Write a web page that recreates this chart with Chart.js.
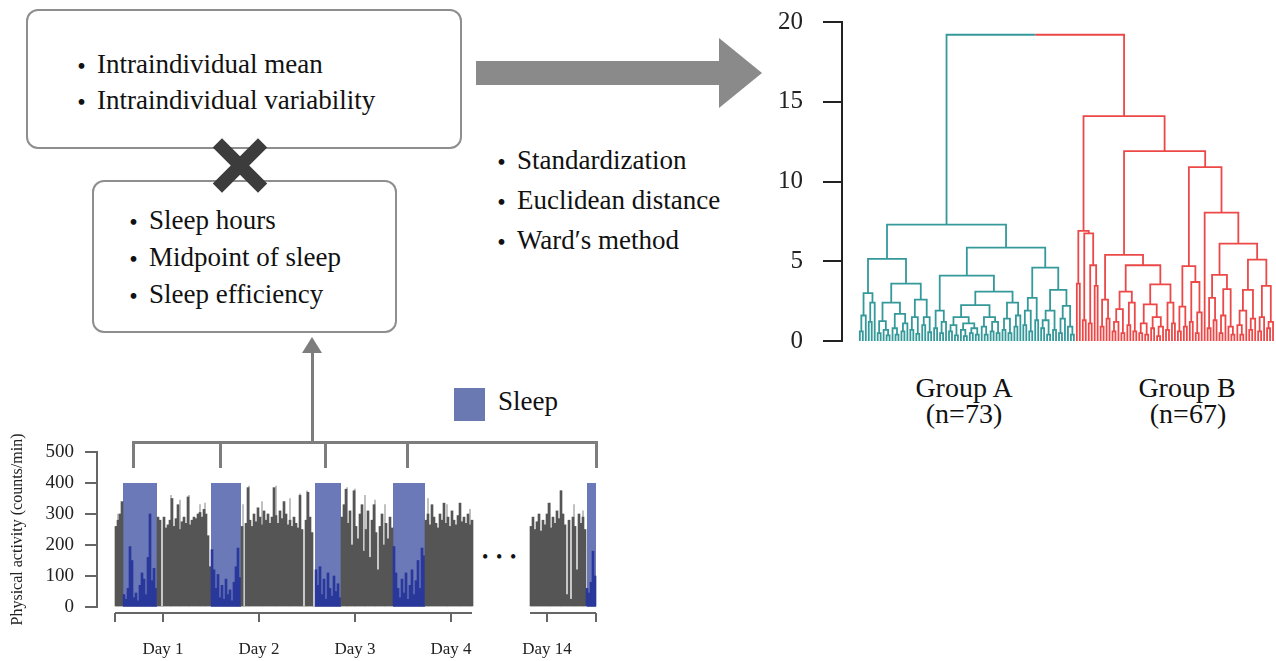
<!DOCTYPE html>
<html>
<head>
<meta charset="utf-8">
<title>Sleep pattern clustering</title>
<script src="https://cdn.jsdelivr.net/npm/chart.js@4.4.1/dist/chart.umd.min.js"></script>
<style>
  html, body { margin: 0; padding: 0; background: #fff; }
  #fig { position: relative; width: 1276px; height: 661px; overflow: hidden;
         font-family: "Liberation Serif", "Times New Roman", serif; color: #111; }
  .box { position: absolute; box-sizing: border-box; border: 2px solid #8e8e8e;
         border-radius: 12px; background: #fff; }
  .ln  { position: absolute; font-size: 27px; line-height: 27px; white-space: nowrap; }
  .ln .b { position: absolute; left: -29px; top: 0; font-family: "Noto Sans CJK JP", sans-serif; }
  .gr  { position: absolute; background: #7d7d7d; }
  .lab { position: absolute; width: 200px; text-align: center; font-size: 28px; line-height: 28px; white-space: nowrap; }
  .dot { position: absolute; font-size: 18px; line-height: 18px; }
  canvas { position: absolute; }
</style>
</head>
<body>
<div id="fig">
  <!-- boxes -->
  <div class="box" style="left:26px;top:9px;width:436px;height:140px"></div>
  <div class="ln" style="left:97px;top:51px"><span class="b">・</span>Intraindividual mean</div>
  <div class="ln" style="left:97px;top:87px"><span class="b">・</span>Intraindividual variability</div>

  <div class="box" style="left:92px;top:180px;width:305px;height:153px"></div>
  <div class="ln" style="left:149px;top:207px"><span class="b">・</span>Sleep hours</div>
  <div class="ln" style="left:149px;top:244px"><span class="b">・</span>Midpoint of sleep</div>
  <div class="ln" style="left:149px;top:281px"><span class="b">・</span>Sleep efficiency</div>

  <!-- cross -->
  <div style="position:absolute;left:208px;top:159px;width:64px;height:13px;background:#3c3c3c;transform:rotate(45deg)"></div>
  <div style="position:absolute;left:208px;top:159px;width:64px;height:13px;background:#3c3c3c;transform:rotate(-45deg)"></div>

  <!-- big arrow -->
  <div style="position:absolute;left:476px;top:61px;width:244px;height:24px;background:#8a8a8a"></div>
  <div style="position:absolute;left:719px;top:38px;width:0;height:0;border-left:43px solid #8a8a8a;border-top:35px solid transparent;border-bottom:35px solid transparent"></div>

  <div class="ln" style="left:517px;top:147px"><span class="b">・</span>Standardization</div>
  <div class="ln" style="left:517px;top:187px"><span class="b">・</span>Euclidean distance</div>
  <div class="ln" style="left:517px;top:227px"><span class="b">・</span>Ward′s method</div>

  <!-- small up arrow + bracket -->
  <div class="gr" style="left:311px;top:352px;width:3px;height:92px"></div>
  <div style="position:absolute;left:302px;top:337px;width:0;height:0;border-bottom:16px solid #7d7d7d;border-left:10px solid transparent;border-right:10px solid transparent"></div>
  <div class="gr" style="left:132px;top:441px;width:466px;height:3px"></div>
  <div class="gr" style="left:132px;top:441px;width:3px;height:27px"></div>
  <div class="gr" style="left:219px;top:441px;width:3px;height:27px"></div>
  <div class="gr" style="left:324px;top:441px;width:3px;height:27px"></div>
  <div class="gr" style="left:406px;top:441px;width:3px;height:27px"></div>
  <div class="gr" style="left:595px;top:441px;width:3px;height:27px"></div>

  <!-- legend -->
  <div style="position:absolute;left:454px;top:388px;width:31px;height:33px;background:#6b79b3"></div>
  <div class="ln" style="left:498px;top:388px">Sleep</div>

  <!-- ellipsis between day 4 and day 14 -->
  <div class="dot" style="left:482px;top:548px">•</div>
  <div class="dot" style="left:496px;top:548px">•</div>
  <div class="dot" style="left:510px;top:548px">•</div>

  <!-- group labels -->
  <div class="lab" style="left:864px;top:374px">Group A</div>
  <div class="lab" style="left:864px;top:400px">(n=73)</div>
  <div class="lab" style="left:1087px;top:374px">Group B</div>
  <div class="lab" style="left:1088px;top:400px">(n=67)</div>

  <canvas id="act" width="610" height="241" style="left:0;top:420px"></canvas>
  <canvas id="dendro" width="516" height="362" style="left:760px;top:0"></canvas>
</div>

<script>
/* Physical activity (counts/min), 30-min bins */
const binHours     = 0.5;
const seg1Start    = 0;        // hours, first shown stretch (Day 1 - Day 4)
const seg1Counts   = [
  260, 280, 300, 340,
  40, 25, 60, 195, 150, 30, 45, 20, 70, 110, 90, 40, 160, 300, 85, 125, 60,
  290, 280, 0,
  290, 255, 265, 280, 350, 260, 285, 330, 250, 275, 290, 270, 355, 265, 280, 290, 285, 300, 305, 290, 315, 300, 230,
  130,
  185, 120, 60, 105, 30, 70, 25, 90, 40, 55, 20, 80, 130, 190, 95,
  260, 0,
  270, 385, 280, 260, 300, 275, 320, 290, 265, 310, 280, 300, 270, 290, 385, 295, 270, 310, 285, 340, 300, 265, 280, 260, 290, 270, 255, 360, 250,
  0,
  280, 370, 290, 240, 0,
  120, 70, 130, 40, 90, 25, 110, 60, 35, 100, 50, 75, 30,
  290, 330, 380, 270, 310, 200, 375, 260, 220, 300, 330, 180, 250, 310, 160, 280, 330, 240, 120, 260, 300, 200, 270, 220, 290, 255,
  195, 110, 60, 30, 90, 45, 110, 25, 70, 120, 40, 85, 150, 60, 190, 165,
  280, 300, 265, 330, 290, 270, 255, 300, 280, 335, 270, 290, 260, 310, 280, 265, 295, 335, 275, 290, 270, 300, 265, 280
];
const seg2Start    = 103.75;   // hours, Day 14 stretch
const seg2Counts   = [
  260, 290, 250, 275, 300, 245, 280, 265, 300, 335, 255, 290, 270, 310, 285, 375, 300, 265, 40, 280, 25, 290, 260, 120, 300, 270, 290, 250,
  60, 45, 80, 180, 100
];
/* short light-grey peaks sticking out above the dark mass */
const peakHours    = [0.75, 14.0, 16.25, 18.5, 21.25, 22.5, 32.0, 33.5, 36.75, 40.25, 43.75, 46.25, 48.0,
                      58.0, 60.0, 62.5, 65.0, 67.5, 78.25, 83.0, 86.25, 88.75, 108.75, 111.5, 114.75, 117.0];
const peakCounts   = [300, 360, 345, 360, 330, 335, 330, 390, 340, 390, 350, 365, 375,
                      385, 380, 360, 345, 330, 350, 330, 335, 315, 335, 375, 330, 310];
const sleepStart   = [2.0, 24.0, 50.0, 69.5, 118.0];
const sleepEnd     = [10.5, 31.5, 56.5, 77.5, 120.25];
const sleepLevel   = 400;
const dayTickHours = [12, 36, 60, 84, 108];
const dayLabels    = ['Day 1', 'Day 2', 'Day 3', 'Day 4', 'Day 14'];
const axisTicks    = [0, 12, 36, 60, 84, 108, 120.25];
const axisPieces   = [[0, 89.25], [103.75, 120.25]];

/* Dendrogram: cophenetic height between neighbouring leaves (leaf order as drawn) */
const groupAGaps = [
  0.6, 1.6, 3.0, 1.2, 2.4, 5.15,
  0.5, 1.25, 0.7, 0.35, 2.4, 0.8, 0.4, 1.7, 0.6, 1.1, 3.6,
  0.7, 1.5, 0.45, 2.6, 1.0, 1.5, 0.55, 7.3,
  0.8, 1.9, 0.5, 1.2, 4.1,
  0.6, 1.0, 0.35, 1.5, 0.7, 0.3, 1.1, 0.5, 0.8, 0.4, 2.25,
  0.9, 0.4, 1.5, 0.6, 1.2, 0.5, 3.1,
  0.7, 1.4, 0.5, 2.4, 0.9, 1.6, 5.85,
  1.0, 1.9, 0.6, 2.7, 1.3, 4.6,
  0.8, 1.3, 0.4, 1.9, 0.7, 3.2,
  0.5, 1.4, 2.2, 0.9, 0.4
];
const rootHeight = 19.2;
const groupBGaps = [
  3.6, 6.9, 1.3, 6.75, 1.1, 4.75, 3.45, 14.1,
  0.9, 2.6, 1.4, 5.4,
  0.6, 1.2, 2.0, 0.5, 3.1,
  1.0, 2.4, 0.6, 4.75,
  0.5, 1.1, 0.4, 2.3, 0.8, 1.5, 0.3, 0.9, 3.55,
  0.7, 2.4, 1.1, 11.9,
  0.6, 2.15, 0.9, 4.7,
  1.2, 3.7, 0.5, 1.8, 10.9,
  8.05,
  0.8, 2.7, 1.3, 4.15,
  0.5, 1.6, 3.25, 0.9, 0.4, 6.1,
  1.0, 0.4, 1.9, 3.2, 0.7, 1.4, 5.1,
  0.6, 1.5, 3.45, 0.8, 1.2
];
const yTicksDendro = [0, 5, 10, 15, 20];

const SERIF     = '"Liberation Serif", "Times New Roman", serif';
const TEAL      = '#35999a';
const RED       = '#ec4848';
const SLEEP_BG  = '#6c79b8';
const GRAY_BAR  = '#555555';
const PEAK_BAR  = '#b4b4b4';
const BLUE_BAR  = '#29389a';

// fixed axis width and no extra label padding, so the plot box sits exactly where the layout padding says
const fixYAxis = width => s => { s.width = width; s.paddingTop = 0; s.paddingBottom = 0; };

/* ---------- activity chart ---------- */
const inSleep = x => sleepStart.some((s, i) => x >= s && x <= sleepEnd[i]);

const activityPoints = [
  ...seg1Counts.map((v, i) => ({ x: seg1Start + binHours * (i + 0.5), y: v })),
  ...seg2Counts.map((v, i) => ({ x: seg2Start + binHours * (i + 0.5), y: v }))
];
const peakPoints = peakHours.map((h, i) => ({ x: h, y: peakCounts[i] }));

const brokenAxis = {
  id: 'brokenAxis',
  afterDraw(chart) {
    const xs  = chart.scales.x;
    const ctx = chart.ctx;
    const y0  = chart.chartArea.bottom + 6;
    ctx.save();
    ctx.strokeStyle = '#666';
    ctx.lineWidth   = 2;
    axisPieces.forEach(([a, b]) => {
      ctx.beginPath();
      ctx.moveTo(xs.getPixelForValue(a), y0);
      ctx.lineTo(xs.getPixelForValue(b), y0);
      ctx.stroke();
    });
    axisTicks.forEach(h => {
      const px = xs.getPixelForValue(h);
      ctx.beginPath();
      ctx.moveTo(px, y0);
      ctx.lineTo(px, y0 + 9);
      ctx.stroke();
    });
    ctx.restore();
  }
};

new Chart(document.getElementById('act'), {
  type: 'bar',
  data: {
    datasets: [
      ...sleepStart.map((s, i) => ({
        type: 'line',
        data: [{ x: s, y: sleepLevel }, { x: sleepEnd[i], y: sleepLevel }],
        borderWidth: 0,
        pointRadius: 0,
        fill: 'origin',
        backgroundColor: SLEEP_BG,
        order: 3
      })),
      {
        type: 'bar',
        data: peakPoints,
        backgroundColor: PEAK_BAR,
        barThickness: 1,
        borderWidth: 0,
        grouped: false,
        order: 2
      },
      {
        type: 'bar',
        data: activityPoints,
        backgroundColor: c => (c.raw && inSleep(c.raw.x)) ? BLUE_BAR : GRAY_BAR,
        barThickness: 2,
        borderWidth: 0,
        grouped: false,
        order: 1
      }
    ]
  },
  options: {
    responsive: false,
    animation: false,
    layout: { padding: { top: 32, right: 10, left: 0, bottom: 0 } },
    plugins: { legend: { display: false }, tooltip: { enabled: false } },
    scales: {
      x: {
        type: 'linear', min: -4.5, max: 121.25, offset: false,
        grid: { display: false, drawTicks: false },
        border: { display: false },
        afterBuildTicks: s => { s.ticks = dayTickHours.map(v => ({ value: v })); },
        afterFit: s => { s.height = 54; s.paddingLeft = 0; s.paddingRight = 0; },
        ticks: {
          autoSkip: false, maxRotation: 0, padding: 32, color: '#222',
          font: { family: SERIF, size: 17 },
          callback: (v, i) => dayLabels[i]
        }
      },
      y: {
        min: 0, max: 500,
        afterFit: fixYAxis(97),
        ticks: { stepSize: 100, padding: 11, color: '#222', font: { family: SERIF, size: 19 } },
        grid: { drawOnChartArea: false, drawTicks: true, tickLength: 12, color: '#666', lineWidth: 2 },
        border: { display: true, color: '#666', width: 2 },
        title: {
          display: true, text: 'Physical activity (counts/min)', color: '#222',
          font: { family: SERIF, size: 16 }, padding: { top: 8, bottom: 0 }
        }
      }
    }
  },
  plugins: [brokenAxis]
});

/* ---------- dendrogram ---------- */
const gaps  = [...groupAGaps, rootHeight, ...groupBGaps];
const nA    = groupAGaps.length + 1;
const teal  = [];
const red   = [];

function buildTree(a, b) {
  if (a === b) return { x: a, h: 0 };
  let k = a;
  for (let j = a; j < b; j++) if (gaps[j] > gaps[k]) k = j;
  const L = buildTree(a, k);
  const R = buildTree(k + 1, b);
  const h = gaps[k];
  const mid = (L.x + R.x) / 2;
  if (a < nA && b >= nA) {
    teal.push({ x: L.x, y: L.h }, { x: L.x, y: h }, { x: mid, y: h }, { x: mid, y: null });
    red.push({ x: mid, y: h }, { x: R.x, y: h }, { x: R.x, y: R.h }, { x: R.x, y: null });
  } else {
    const t = a < nA ? teal : red;
    t.push({ x: L.x, y: L.h }, { x: L.x, y: h }, { x: R.x, y: h }, { x: R.x, y: R.h }, { x: R.x, y: null });
  }
  return { x: mid, h };
}
buildTree(0, gaps.length);

new Chart(document.getElementById('dendro'), {
  type: 'line',
  data: {
    datasets: [
      { data: teal, borderColor: TEAL, borderWidth: 1.8, pointRadius: 0, spanGaps: false, tension: 0 },
      { data: red,  borderColor: RED,  borderWidth: 1.8, pointRadius: 0, spanGaps: false, tension: 0 }
    ]
  },
  options: {
    responsive: false,
    animation: false,
    layout: { padding: { top: 22, bottom: 21, left: 0, right: 0 } },
    plugins: { legend: { display: false }, tooltip: { enabled: false } },
    scales: {
      x: { type: 'linear', min: -6, max: 140, display: false },
      y: {
        min: 0, max: 20,
        afterFit: fixYAxis(82),
        afterBuildTicks: s => { s.ticks = yTicksDendro.map(v => ({ value: v })); },
        ticks: { padding: 20, color: '#222', font: { family: SERIF, size: 25 } },
        grid: { drawOnChartArea: false, drawTicks: true, tickLength: 19, color: '#222', lineWidth: 2 },
        border: { display: true, color: '#222', width: 2 }
      }
    }
  }
});
</script>
</body>
</html>
